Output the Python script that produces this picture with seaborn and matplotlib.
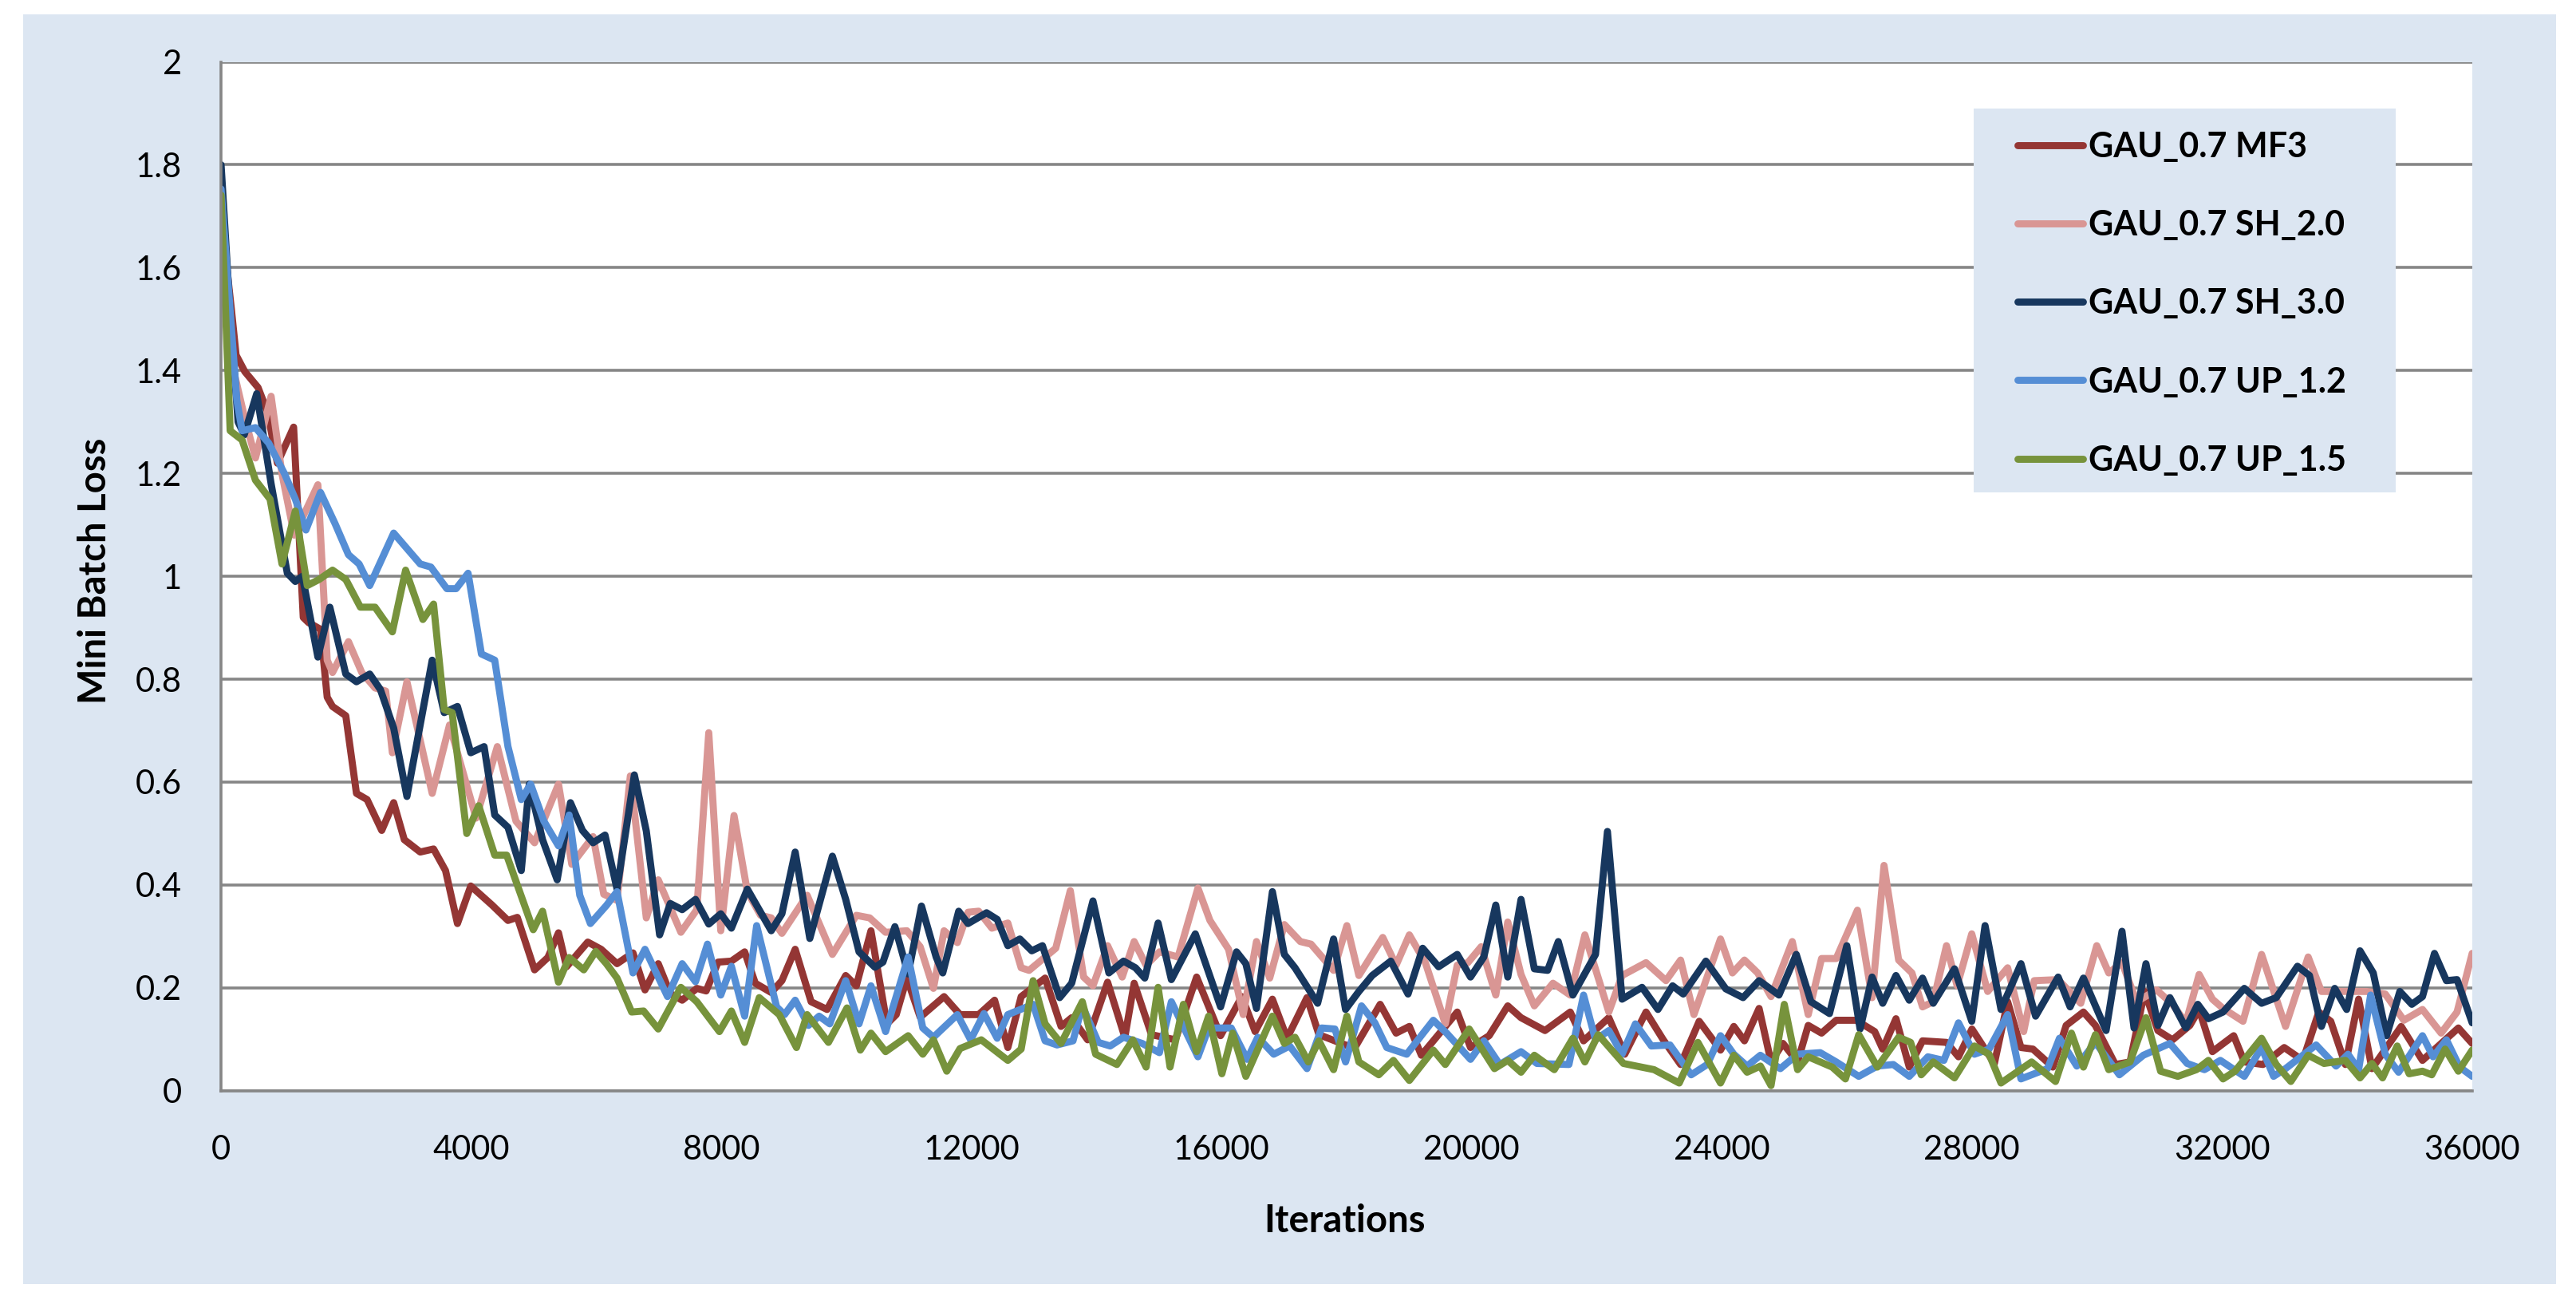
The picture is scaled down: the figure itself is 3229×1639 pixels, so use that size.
import pandas as pd
import matplotlib.pyplot as plt
import seaborn as sns
from matplotlib.patches import Rectangle
from matplotlib.ticker import FuncFormatter, MultipleLocator

series_names = ['GAU_0.7 MF3', 'GAU_0.7 SH_2.0', 'GAU_0.7 SH_3.0', 'GAU_0.7 UP_1.2', 'GAU_0.7 UP_1.5']
colors = ['#943634', '#D99694', '#17375E', '#558ED5', '#77933C']

# values (local peaks and troughs of each curve)
mf3_iter = [0, 164, 240, 379, 591, 740, 900, 1160, 1314, 1399, 1590, 1697, 1782, 1994, 2165, 2335, 2569, 2760,
            2930, 3185, 3398, 3589, 3780, 3993, 4333, 4588, 4737, 5013, 5226, 5396, 5524, 5694, 5864, 6077, 6332,
            6587, 6779, 6991, 7183, 7374, 7608, 7757, 7948, 8161, 8373, 8543, 8798, 8969, 9181, 9436, 9691, 9989,
            10159, 10393, 10648, 10797, 10967, 11180, 11562, 11817, 12115, 12370, 12582, 12795, 13178, 13433,
            13603, 13858, 14177, 14453, 14602, 14879, 15261, 15601, 15984, 16324, 16537, 16813, 17047, 17366,
            17557, 17982, 18132, 18536, 18791, 19003, 19195, 19769, 19981, 20279, 20577, 20789, 21172, 21576,
            21789, 22193, 22448, 22788, 23064, 23341, 23638, 23979, 24192, 24362, 24596, 24787, 24978, 25212,
            25382, 25595, 25829, 26148, 26445, 26573, 26785, 26998, 27210, 27593, 27785, 28000, 28359, 28571,
            28784, 28975, 29294, 29507, 29783, 29974, 30294, 30528, 30762, 30974, 31208, 31485, 31633, 31846,
            32186, 32356, 32654, 32994, 33292, 33547, 33738, 33972, 34184, 34397, 34865, 35205, 35779, 36000]
mf3_loss = [1.70, 1.52, 1.43, 1.398, 1.367, 1.32, 1.22, 1.29, 0.92, 0.91, 0.897, 0.765, 0.747, 0.729, 0.578, 0.566,
            0.506, 0.56, 0.488, 0.464, 0.47, 0.428, 0.325, 0.398, 0.361, 0.331, 0.337, 0.235, 0.259, 0.307, 0.241,
            0.265, 0.289, 0.275, 0.247, 0.268, 0.196, 0.247, 0.189, 0.176, 0.199, 0.194, 0.25, 0.252, 0.27, 0.209,
            0.191, 0.214, 0.275, 0.173, 0.158, 0.224, 0.204, 0.311, 0.13, 0.148, 0.219, 0.143, 0.183, 0.148, 0.148,
            0.176, 0.084, 0.183, 0.219, 0.125, 0.142, 0.099, 0.211, 0.104, 0.209, 0.109, 0.099, 0.221, 0.107, 0.183,
            0.115, 0.178, 0.102, 0.181, 0.109, 0.089, 0.084, 0.168, 0.112, 0.125, 0.069, 0.153, 0.084, 0.107, 0.165,
            0.142, 0.117, 0.153, 0.097, 0.142, 0.071, 0.153, 0.099, 0.051, 0.135, 0.079, 0.125, 0.097, 0.16, 0.056,
            0.092, 0.056, 0.127, 0.112, 0.137, 0.137, 0.115, 0.081, 0.14, 0.046, 0.097, 0.094, 0.066, 0.12, 0.053,
            0.173, 0.084, 0.081, 0.046, 0.127, 0.153, 0.127, 0.051, 0.056, 0.193, 0.117, 0.099, 0.127, 0.158, 0.076,
            0.107, 0.056, 0.051, 0.084, 0.059, 0.153, 0.135, 0.051, 0.178, 0.043, 0.125, 0.059, 0.122, 0.092]

sh20_iter = [0, 200, 379, 550, 800, 974, 1170, 1548, 1697, 1782, 2037, 2250, 2462, 2632, 2739, 2972, 3376, 3653,
             4078, 4418, 4716, 5013, 5396, 5609, 5949, 6120, 6332, 6545, 6800, 6991, 7353, 7608, 7799, 7991, 8203,
             8416, 8628, 8798, 8969, 9372, 9776, 10159, 10372, 10627, 10967, 11180, 11392, 11562, 11775, 11945,
             12115, 12327, 12582, 12795, 12922, 13348, 13581, 13794, 13943, 14177, 14411, 14602, 14793, 15006,
             15304, 15622, 15814, 16112, 16346, 16558, 16770, 17004, 17260, 17430, 17791, 18004, 18196, 18578,
             18791, 19003, 19259, 19578, 19769, 19939, 20152, 20385, 20577, 20789, 21002, 21300, 21576, 21810,
             22193, 22405, 22788, 23107, 23341, 23554, 23979, 24170, 24362, 24574, 24787, 25127, 25382, 25595,
             25829, 26169, 26403, 26594, 26828, 27040, 27210, 27381, 27593, 27763, 27997, 28252, 28571, 28827,
             28996, 29379, 29740, 29996, 30188, 30400, 30634, 30953, 31208, 31421, 31633, 31846, 32016, 32335,
             32632, 33015, 33377, 33589, 33929, 34312, 34610, 34907, 35205, 35503, 35758, 36000]
sh20_loss = [1.70, 1.40, 1.307, 1.23, 1.35, 1.199, 1.08, 1.178, 0.837, 0.813, 0.873, 0.813, 0.783, 0.777, 0.657,
             0.795, 0.578, 0.711, 0.53, 0.669, 0.524, 0.482, 0.596, 0.44, 0.494, 0.382, 0.37, 0.612, 0.336, 0.41,
             0.308, 0.352, 0.696, 0.311, 0.535, 0.387, 0.341, 0.336, 0.306, 0.38, 0.265, 0.341, 0.336, 0.308, 0.311,
             0.28, 0.199, 0.311, 0.288, 0.347, 0.349, 0.316, 0.326, 0.239, 0.234, 0.277, 0.389, 0.221, 0.204, 0.282,
             0.221, 0.29, 0.244, 0.27, 0.26, 0.394, 0.331, 0.275, 0.148, 0.29, 0.219, 0.323, 0.29, 0.285, 0.234,
             0.321, 0.224, 0.298, 0.244, 0.303, 0.249, 0.13, 0.244, 0.249, 0.28, 0.186, 0.328, 0.226, 0.165, 0.209,
             0.186, 0.303, 0.153, 0.224, 0.249, 0.214, 0.254, 0.148, 0.295, 0.229, 0.254, 0.229, 0.183, 0.29, 0.148,
             0.257, 0.257, 0.351, 0.181, 0.438, 0.254, 0.229, 0.163, 0.173, 0.282, 0.204, 0.305, 0.193, 0.239, 0.115,
             0.214, 0.216, 0.17, 0.282, 0.229, 0.249, 0.173, 0.196, 0.168, 0.132, 0.226, 0.178, 0.16, 0.135, 0.265,
             0.125, 0.26, 0.193, 0.193, 0.193, 0.188, 0.137, 0.158, 0.112, 0.153, 0.267]

sh30_iter = [0, 150, 272, 370, 570, 800, 1059, 1187, 1300, 1548, 1739, 1994, 2165, 2377, 2547, 2760, 2972, 3376,
             3568, 3780, 3993, 4206, 4376, 4588, 4801, 4928, 5141, 5375, 5587, 5779, 5949, 6140, 6332, 6609, 6800,
             7013, 7183, 7374, 7587, 7799, 7991, 8161, 8416, 8628, 8798, 8969, 9181, 9415, 9776, 9989, 10202, 10457,
             10584, 10776, 10988, 11201, 11435, 11541, 11796, 11945, 12242, 12412, 12582, 12774, 12965, 13135,
             13411, 13603, 13943, 14198, 14432, 14623, 14772, 14985, 15197, 15580, 15984, 16239, 16388, 16558,
             16813, 17004, 17174, 17536, 17791, 17982, 18196, 18408, 18706, 18982, 19216, 19471, 19769, 19981,
             20194, 20385, 20577, 20789, 21002, 21214, 21385, 21618, 21980, 22171, 22405, 22724, 22979, 23213,
             23383, 23745, 24064, 24340, 24596, 24914, 25191, 25425, 25722, 25999, 26211, 26403, 26573, 26785,
             26998, 27210, 27381, 27721, 27997, 28210, 28465, 28784, 29018, 29379, 29570, 29783, 30145, 30400,
             30592, 30783, 30974, 31166, 31421, 31612, 31782, 32016, 32356, 32632, 32866, 33206, 33398, 33589,
             33802, 33993, 34206, 34418, 34631, 34843, 35035, 35205, 35397, 35588, 35758, 36000]
sh30_loss = [1.80, 1.50, 1.30, 1.275, 1.355, 1.18, 1.006, 0.99, 1.00, 0.843, 0.94, 0.81, 0.795, 0.81, 0.78, 0.705,
             0.572, 0.837, 0.735, 0.747, 0.657, 0.669, 0.536, 0.512, 0.428, 0.596, 0.488, 0.41, 0.56, 0.506, 0.482,
             0.497, 0.392, 0.614, 0.505, 0.303, 0.364, 0.352, 0.372, 0.324, 0.344, 0.316, 0.392, 0.347, 0.311, 0.344,
             0.464, 0.296, 0.456, 0.372, 0.27, 0.24, 0.25, 0.319, 0.227, 0.359, 0.26, 0.229, 0.349, 0.325, 0.346,
             0.333, 0.282, 0.295, 0.272, 0.282, 0.181, 0.209, 0.369, 0.229, 0.252, 0.239, 0.219, 0.326, 0.216, 0.305,
             0.163, 0.27, 0.247, 0.16, 0.387, 0.265, 0.239, 0.17, 0.295, 0.158, 0.193, 0.224, 0.252, 0.188, 0.277,
             0.241, 0.265, 0.221, 0.26, 0.361, 0.221, 0.372, 0.237, 0.234, 0.29, 0.186, 0.265, 0.504, 0.178, 0.201,
             0.158, 0.204, 0.188, 0.252, 0.198, 0.181, 0.214, 0.186, 0.265, 0.173, 0.15, 0.282, 0.12, 0.221, 0.17,
             0.224, 0.176, 0.219, 0.17, 0.237, 0.135, 0.321, 0.158, 0.247, 0.145, 0.221, 0.163, 0.219, 0.117, 0.31,
             0.122, 0.247, 0.127, 0.181, 0.122, 0.168, 0.14, 0.153, 0.199, 0.17, 0.181, 0.242, 0.224, 0.125, 0.199,
             0.158, 0.272, 0.229, 0.107, 0.193, 0.168, 0.183, 0.267, 0.214, 0.216, 0.132]

up12_iter = [0, 251, 336, 549, 761, 1016, 1187, 1357, 1590, 1824, 2037, 2207, 2377, 2760, 3185, 3355, 3610, 3759,
             3950, 4163, 4376, 4588, 4801, 4950, 5162, 5396, 5566, 5736, 5906, 6161, 6332, 6587, 6779, 7140, 7374,
             7587, 7778, 7991, 8161, 8373, 8565, 8884, 9011, 9181, 9394, 9564, 9734, 9989, 10202, 10393, 10627,
             10988, 11222, 11392, 11775, 11987, 12200, 12412, 12582, 12986, 13178, 13369, 13624, 13773, 14028,
             14219, 14432, 14730, 15006, 15197, 15622, 15793, 16154, 16409, 16579, 16834, 17089, 17366, 17600,
             17812, 17983, 18238, 18451, 18642, 18961, 19386, 19599, 19981, 20194, 20449, 20789, 21044, 21555,
             21789, 21980, 22193, 22405, 22618, 22873, 23171, 23511, 23766, 23979, 24192, 24404, 24617, 24936,
             25212, 25574, 25829, 26190, 26488, 26743, 26998, 27296, 27551, 27785, 28040, 28274, 28571, 28784,
             29209, 29400, 29677, 29974, 30358, 30741, 31166, 31442, 31718, 31973, 32356, 32632, 32824, 33015,
             33504, 33823, 34015, 34184, 34376, 34610, 34823, 35205, 35375, 35588, 35800, 36000]
up12_loss = [1.753, 1.343, 1.283, 1.289, 1.259, 1.199, 1.15, 1.09, 1.163, 1.102, 1.042, 1.024, 0.982, 1.084, 1.024,
             1.018, 0.976, 0.976, 1.006, 0.849, 0.837, 0.669, 0.566, 0.596, 0.524, 0.476, 0.536, 0.38, 0.325, 0.36,
             0.387, 0.229, 0.275, 0.183, 0.247, 0.212, 0.285, 0.186, 0.242, 0.145, 0.321, 0.163, 0.148, 0.176, 0.127,
             0.145, 0.13, 0.214, 0.13, 0.204, 0.115, 0.26, 0.122, 0.104, 0.148, 0.099, 0.15, 0.102, 0.148, 0.168,
             0.097, 0.089, 0.097, 0.165, 0.094, 0.087, 0.104, 0.092, 0.074, 0.173, 0.066, 0.122, 0.122, 0.061, 0.104,
             0.071, 0.087, 0.043, 0.122, 0.12, 0.056, 0.165, 0.132, 0.084, 0.071, 0.137, 0.112, 0.061, 0.097, 0.051,
             0.076, 0.053, 0.051, 0.186, 0.099, 0.117, 0.071, 0.13, 0.087, 0.089, 0.031, 0.051, 0.107, 0.071, 0.048,
             0.069, 0.043, 0.071, 0.074, 0.056, 0.028, 0.048, 0.051, 0.028, 0.066, 0.059, 0.132, 0.071, 0.081, 0.148,
             0.023, 0.043, 0.102, 0.048, 0.094, 0.031, 0.069, 0.092, 0.053, 0.041, 0.059, 0.028, 0.084, 0.028, 0.043,
             0.089, 0.048, 0.071, 0.041, 0.186, 0.071, 0.036, 0.107, 0.066, 0.099, 0.046, 0.028]

up15_iter = [0, 145, 336, 549, 783, 974, 1187, 1378, 1569, 1782, 1994, 2228, 2462, 2739, 2951, 3227, 3398, 3568,
             3695, 3929, 4120, 4376, 4567, 4992, 5141, 5396, 5566, 5800, 5991, 6161, 6332, 6566, 6757, 6991, 7353,
             7608, 7969, 8161, 8373, 8607, 8926, 9202, 9372, 9713, 10010, 10223, 10393, 10627, 10988, 11222, 11392,
             11605, 11817, 12157, 12582, 12795, 12986, 13178, 13433, 13773, 13986, 14326, 14581, 14793, 14985,
             15176, 15389, 15601, 15793, 16005, 16176, 16388, 16813, 17004, 17174, 17387, 17557, 17791, 18004,
             18196, 18514, 18748, 19003, 19386, 19578, 19960, 20364, 20577, 20789, 21002, 21321, 21618, 21810,
             22023, 22427, 22916, 23319, 23617, 23979, 24192, 24404, 24617, 24787, 24999, 25212, 25382, 25765,
             25977, 26190, 26488, 26828, 27019, 27189, 27381, 27721, 28040, 28274, 28465, 28954, 29337, 29591,
             29783, 29975, 30188, 30528, 30783, 31017, 31293, 31591, 31782, 32016, 32207, 32632, 32866, 33100,
             33377, 33631, 33972, 34206, 34397, 34567, 34801, 34992, 35205, 35354, 35567, 35779, 36000]
up15_loss = [1.741, 1.283, 1.265, 1.187, 1.15, 1.024, 1.127, 0.982, 0.994, 1.012, 0.994, 0.94, 0.94, 0.892, 1.012,
             0.916, 0.946, 0.741, 0.735, 0.5, 0.554, 0.458, 0.458, 0.313, 0.349, 0.211, 0.259, 0.235, 0.271, 0.247,
             0.219, 0.153, 0.155, 0.12, 0.201, 0.173, 0.115, 0.155, 0.094, 0.181, 0.148, 0.084, 0.148, 0.094, 0.161,
             0.079, 0.112, 0.076, 0.107, 0.071, 0.099, 0.038, 0.082, 0.099, 0.059, 0.081, 0.214, 0.13, 0.092, 0.173,
             0.071, 0.051, 0.099, 0.046, 0.201, 0.046, 0.168, 0.076, 0.145, 0.033, 0.112, 0.028, 0.145, 0.092, 0.104,
             0.056, 0.097, 0.041, 0.145, 0.056, 0.031, 0.059, 0.02, 0.079, 0.051, 0.12, 0.043, 0.059, 0.036, 0.069,
             0.041, 0.102, 0.056, 0.109, 0.053, 0.041, 0.015, 0.094, 0.015, 0.069, 0.036, 0.048, 0.01, 0.168, 0.041,
             0.066, 0.046, 0.023, 0.109, 0.046, 0.104, 0.094, 0.031, 0.056, 0.025, 0.087, 0.071, 0.015, 0.056, 0.018,
             0.112, 0.046, 0.109, 0.041, 0.056, 0.142, 0.038, 0.028, 0.041, 0.059, 0.023, 0.038, 0.102, 0.051, 0.018,
             0.069, 0.053, 0.059, 0.025, 0.053, 0.025, 0.087, 0.033, 0.038, 0.031, 0.081, 0.038, 0.079]

iters = [mf3_iter, sh20_iter, sh30_iter, up12_iter, up15_iter]
losses = [mf3_loss, sh20_loss, sh30_loss, up12_loss, up15_loss]

frames = []
for name, it, loss in zip(series_names, iters, losses):
    frames.append(pd.DataFrame({'Iterations': it, 'Loss': loss, 'Series': name}))
df = pd.concat(frames, ignore_index=True)

sns.set_theme(style='white')
plt.rcParams['font.family'] = ['Lato', 'DejaVu Sans']

grid_col = '#868686'
bg_col = '#DCE6F2'

fig = plt.figure(figsize=(32.3, 16.39), dpi=100)
# light blue chart area behind everything
fig.add_artist(Rectangle((0.009, 0.0183), 0.983, 0.9707, transform=fig.transFigure,
                         facecolor=bg_col, edgecolor='none', zorder=-5))
ax = fig.add_axes([0.0858, 0.1661, 0.8736, 0.7866])
ax.set_zorder(1)
ax.set_facecolor('white')

sns.lineplot(data=df, x='Iterations', y='Loss', hue='Series', hue_order=series_names, palette=colors,
             sort=False, estimator=None, linewidth=6.4, ax=ax)
for line in ax.get_lines():
    line.set_solid_joinstyle('round')
    line.set_solid_capstyle('round')

handles, labels = ax.get_legend_handles_labels()
if ax.get_legend() is not None:
    ax.get_legend().remove()

ax.set_xlim(0, 36000)
ax.set_ylim(0, 2)
ax.xaxis.set_major_locator(MultipleLocator(4000))
ax.yaxis.set_major_locator(MultipleLocator(0.2))
ax.yaxis.set_major_formatter(FuncFormatter(lambda v, p: '%g' % round(v, 1)))

ax.grid(axis='y', color=grid_col, linewidth=2.6)
ax.grid(axis='x', visible=False)
ax.set_axisbelow(True)
for s in ['top', 'right']:
    ax.spines[s].set_visible(False)
for s in ['left', 'bottom']:
    ax.spines[s].set_color(grid_col)
    ax.spines[s].set_linewidth(2.6)

ax.tick_params(axis='y', length=11.5, width=2.6, color=grid_col, pad=24, labelsize=30, labelcolor='black')
ax.tick_params(axis='x', length=0, pad=40, labelsize=30, labelcolor='black')

ax.set_xlabel('Iterations', fontsize=34, fontweight='bold', color='black')
ax.xaxis.set_label_coords(0.499, -0.1097)
ax.set_ylabel('Mini Batch Loss', fontsize=34, fontweight='bold', color='black')
ax.yaxis.set_label_coords(-0.0482, 0.505)

# legend box
ax.add_patch(Rectangle((0.7784, 0.5818), 0.1878, 0.373, transform=ax.transAxes,
                       facecolor=bg_col, edgecolor='none', zorder=4))
leg = ax.legend(handles, labels, loc='upper left', bbox_to_anchor=(0.798, 0.9328), frameon=False,
                borderpad=0, borderaxespad=0, handlelength=1.9, handletextpad=0.16, labelspacing=1.35,
                prop={'weight': 'bold', 'size': 31})
leg.set_zorder(5)
for h in leg.get_lines():
    h.set_linewidth(6.4)
    h.set_solid_capstyle('round')
for t in leg.get_texts():
    t.set_color('black')

ax.set_xlim(0, 36000)
ax.set_ylim(0, 2)

fig.savefig('out.png', dpi=100, facecolor='white')
